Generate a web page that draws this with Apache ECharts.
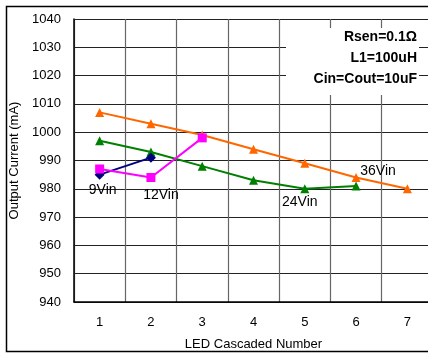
<!DOCTYPE html>
<html>
<head>
<meta charset="utf-8">
<script src="https://cdn.jsdelivr.net/npm/echarts@6/dist/echarts.min.js"></script>
<style>
  html, body { margin: 0; padding: 0; background: #fff; }
  #chart { width: 428px; height: 353px; }
</style>
</head>
<body>
<div id="chart"></div>
<script>
  // 数据
  var categories = ['1', '2', '3', '4', '5', '6', '7'];
  var vin9 = [985, 991, null, null, null, null, null];
  var vin12 = [987, 984, 998, null, null, null, null];
  var vin24 = [997, 993, 988, 983, 980, 981, null];
  var vin36 = [1007, 1003, 999, 994, 989, 984, 980];
  var notes = ['Rsen=0.1Ω', 'L1=100uH', 'Cin=Cout=10uF'];

  var font = 'Liberation Sans, Arial, sans-serif';

  // 给某个点加上系列名称的标签
  function withLabel(arr, idx, text, offset) {
    return arr.map(function (v, i) {
      if (i !== idx) return v;
      return {
        value: v,
        label: {
          show: true, formatter: text, position: 'inside', offset: offset,
          color: '#000', fontSize: 14, fontFamily: font
        }
      };
    });
  }

  var chart = echarts.init(document.getElementById('chart'));
  var option = {
    animation: false,
    backgroundColor: '#fff',
    grid: { left: 74, top: 19, width: 359, height: 283, outerBoundsMode: 'none', containLabel: false },
    xAxis: {
      type: 'category',
      data: categories,
      boundaryGap: true,
      name: 'LED Cascaded Number',
      nameLocation: 'middle',
      nameGap: 36,
      nameTextStyle: { color: '#000', fontSize: 13, fontFamily: font },
      axisLine: { lineStyle: { color: '#000', width: 1.5 } },
      axisTick: { show: false },
      axisLabel: { color: '#000', fontSize: 13, fontFamily: font, margin: 14 },
      splitLine: { show: true, lineStyle: { color: '#666', width: 1.2 } }
    },
    yAxis: {
      type: 'value',
      min: 940, max: 1040, interval: 10,
      name: 'Output Current (mA)',
      nameLocation: 'middle',
      nameGap: 46,
      nameTextStyle: { color: '#000', fontSize: 13, fontFamily: font },
      axisLine: { show: true, lineStyle: { color: '#000', width: 1.5 } },
      axisTick: { show: false },
      axisLabel: {
        color: '#000', fontSize: 13, fontFamily: font, margin: 13,
        formatter: function (v) { return String(v); }
      },
      splitLine: { show: true, lineStyle: { color: '#222', width: 1.2 } }
    },
    graphic: [
      {
        type: 'rect', left: 4, top: 4,
        shape: { width: 440, height: 345 },
        style: { fill: 'none', stroke: '#000', lineWidth: 1.5 },
        silent: true, z: -1
      },
      {
        type: 'rect', left: 286, top: 28,
        shape: { width: 133, height: 67 },
        style: { fill: '#fff' }, z: 5
      }
    ].concat(notes.map(function (t, i) {
      return {
        type: 'text', x: 417, y: 37 + i * 21, z: 6,
        style: {
          text: t, align: 'right', verticalAlign: 'middle', fill: '#000',
          font: 'bold 14px ' + font
        }
      };
    })),
    series: [
      {
        name: '9Vin', type: 'line', data: withLabel(vin9, 0, '9Vin', [3, 15]),
        symbol: 'diamond', symbolSize: 10,
        lineStyle: { color: '#00007f', width: 2 },
        itemStyle: { color: '#00007f' }, z: 3
      },
      {
        name: '12Vin', type: 'line', data: withLabel(vin12, 1, '12Vin', [10, 18]),
        symbol: 'rect', symbolSize: 9,
        lineStyle: { color: '#ff00ff', width: 2 },
        itemStyle: { color: '#ff00ff' }, z: 4
      },
      {
        name: '24Vin', type: 'line', data: withLabel(vin24, 4, '24Vin', [-5, 13]),
        symbol: 'triangle', symbolSize: 9,
        lineStyle: { color: '#008000', width: 2 },
        itemStyle: { color: '#008000' }, z: 2
      },
      {
        name: '36Vin', type: 'line', data: withLabel(vin36, 5, '36Vin', [22, -6]),
        symbol: 'triangle', symbolSize: 9,
        lineStyle: { color: '#ff6600', width: 2 },
        itemStyle: { color: '#ff6600' }, z: 2
      }
    ]
  };
  chart.setOption(option);
</script>
</body>
</html>
